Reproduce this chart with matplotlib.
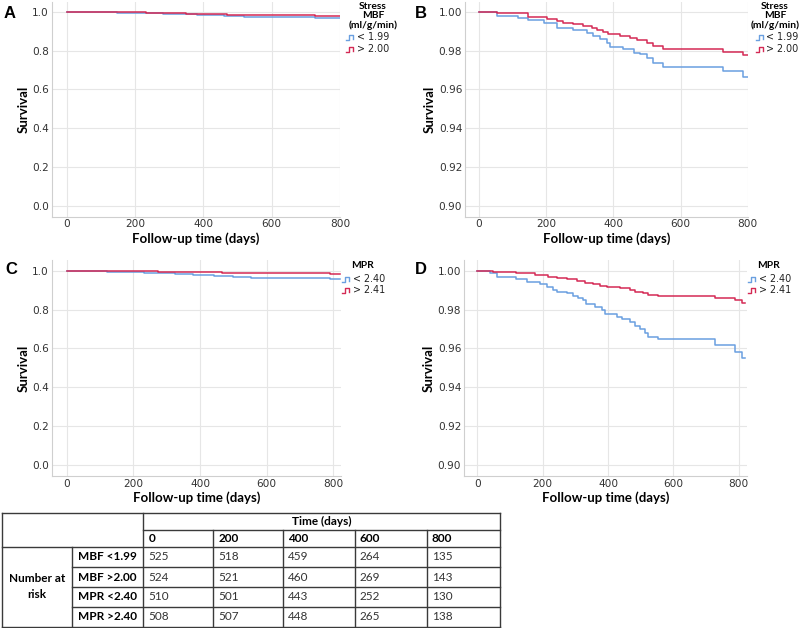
import matplotlib
matplotlib.use("Agg")
import matplotlib.pyplot as plt
from matplotlib.lines import Line2D
import numpy as np

# ---------------- data ----------------
mbf_low_t = [0, 53, 117, 147, 192, 231, 281, 320, 340, 360, 380, 390, 430, 460, 480, 499, 519, 549, 726, 787]
mbf_low_s = [1.000, 0.998, 0.997, 0.9957, 0.9943, 0.9914, 0.9906, 0.9892, 0.9875, 0.986, 0.9837, 0.982,
             0.9806, 0.979, 0.978, 0.976, 0.9738, 0.9717, 0.9696, 0.9666]
mbf_high_t = [0, 53, 147, 201, 231, 251, 281, 310, 335, 350, 370, 385, 420, 450, 470, 499, 519, 549, 726, 787]
mbf_high_s = [1.000, 0.9993, 0.9974, 0.9962, 0.995, 0.994, 0.9935, 0.9926, 0.9918, 0.9906, 0.9897, 0.9883,
              0.9875, 0.9866, 0.9854, 0.984, 0.9823, 0.981, 0.9794, 0.9777]
mbf_end = 800

mpr_low_t = [0, 39, 59, 120, 151, 192, 212, 233, 243, 273, 294, 309, 324, 334, 360, 380, 391, 426, 442,
             467, 483, 498, 513, 523, 554, 727, 789, 809]
mpr_low_s = [1.000, 0.999, 0.997, 0.9957, 0.9943, 0.993, 0.9918, 0.990, 0.9889, 0.9883, 0.987, 0.986,
             0.985, 0.983, 0.9815, 0.980, 0.9777, 0.9763, 0.975, 0.9737, 0.9715, 0.9698, 0.9678, 0.966,
             0.9647, 0.9617, 0.9583, 0.9549]
mpr_high_t = [0, 49, 120, 177, 217, 243, 273, 304, 329, 355, 376, 396, 437, 467, 483, 508, 523, 554, 727, 789, 809]
mpr_high_s = [1.000, 0.9991, 0.9986, 0.9978, 0.997, 0.996, 0.9955, 0.9949, 0.9938, 0.9931, 0.992, 0.9918,
              0.9909, 0.990, 0.9892, 0.9883, 0.9875, 0.987, 0.986, 0.985, 0.9835]
mpr_end = 820

mbf_labels = ["< 1.99", "> 2.00"]
mpr_labels = ["< 2.40", "> 2.41"]

risk_times = ["0", "200", "400", "600", "800"]
risk_groups = ["MBF <1.99", "MBF >2.00", "MPR <2.40", "MPR >2.40"]
risk_mbf_low = [525, 518, 459, 264, 135]
risk_mbf_high = [524, 521, 460, 269, 143]
risk_mpr_low = [510, 501, 443, 252, 130]
risk_mpr_high = [508, 507, 448, 265, 138]

BLUE = "#6a9fe0"
RED = "#d42a55"
GRID = "#e6e6e6"
SPINE = "#cfcfcf"

W, H = 800, 628
fig = plt.figure(figsize=(W / 100, H / 100), dpi=100)
fig.patch.set_facecolor("white")


def fx(x):
    return x / W


def fy(y):
    return 1 - y / H


def make_ax(l, r, t, b):
    return fig.add_axes([fx(l), fy(b), (r - l) / W, (b - t) / H])


def style(ax, xlim, ylim, yticks, yfmt):
    ax.set_xlim(*xlim)
    ax.set_ylim(*ylim)
    ax.set_xticks([0, 200, 400, 600, 800])
    ax.set_yticks(yticks)
    ax.set_yticklabels([yfmt.format(v) for v in yticks])
    ax.grid(True, color=GRID, lw=0.8)
    ax.set_axisbelow(True)
    for s in ["top", "right"]:
        ax.spines[s].set_visible(False)
    for s in ["left", "bottom"]:
        ax.spines[s].set_color(SPINE)
        ax.spines[s].set_linewidth(0.8)
    ax.tick_params(length=0, labelsize=7.6, colors="#333333", pad=2)
    for lab in ax.get_xticklabels() + ax.get_yticklabels():
        lab.set_family("DejaVu Sans")
    ax.set_xlabel("Follow-up time (days)", fontsize=9.5, fontweight="bold", family="Lato", labelpad=2)
    ax.set_ylabel("Survival", fontsize=9.5, fontweight="bold", family="Lato", labelpad=2)


def km(ax, t, s, end, color):
    tt = list(t) + [end]
    ss = list(s) + [s[-1]]
    ax.step(tt, ss, where="post", color=color, lw=1.1)


panels = [
    (51.7, 340, 2, 216.7, (-44, 800), (-0.055, 1.05), [0, 0.2, 0.4, 0.6, 0.8, 1.0], "{:.1f}", "mbf", "A", 10, 13),
    (465, 747.7, 2, 216.7, (-42, 800), (0.8945, 1.005), [0.90, 0.92, 0.94, 0.96, 0.98, 1.00], "{:.2f}", "mbf", "B", 421, 13),
    (51.7, 340.7, 260, 476, (-45, 822), (-0.056, 1.055), [0, 0.2, 0.4, 0.6, 0.8, 1.0], "{:.1f}", "mpr", "C", 11, 270),
    (464, 746.7, 260, 476, (-40.5, 824), (0.8943, 1.0055), [0.90, 0.92, 0.94, 0.96, 0.98, 1.00], "{:.2f}", "mpr", "D", 421, 270),
]

for (l, r, t, b, xl, yl, yt, fmt, kind, letter, lx, ly) in panels:
    ax = make_ax(l, r, t, b)
    style(ax, xl, yl, yt, fmt)
    if kind == "mbf":
        km(ax, mbf_low_t, mbf_low_s, mbf_end, BLUE)
        km(ax, mbf_high_t, mbf_high_s, mbf_end, RED)
    else:
        km(ax, mpr_low_t, mpr_low_s, mpr_end, BLUE)
        km(ax, mpr_high_t, mpr_high_s, mpr_end, RED)
    fig.text(fx(lx), fy(ly), letter, fontsize=12, fontweight="bold", family="Liberation Sans",
             ha="center", va="center")


# ---------------- legends ----------------
def step_icon(x0, yc, color):
    w, h = 7, 5
    xs = [x0, x0 + 3, x0 + 3, x0 + w, x0 + w]
    ys = [yc + h / 2, yc + h / 2, yc - h / 2, yc - h / 2, yc + h / 2 - 1]
    fig.add_artist(Line2D([fx(v) for v in xs], [fy(v) for v in ys], color=color, lw=1.0,
                          transform=fig.transFigure))


def legend(title_lines, title_x, title_ys, icon_x, text_x, item_ys, labels):
    for line, y in zip(title_lines, title_ys):
        fig.text(fx(title_x), fy(y), line, fontsize=7.4, fontweight="bold", family="Lato",
                 ha="center", va="center")
    for y, lab, c in zip(item_ys, labels, [BLUE, RED]):
        step_icon(icon_x, y, c)
        fig.text(fx(text_x), fy(y), lab, fontsize=6.9, family="DejaVu Sans", ha="left", va="center",
                 color="#222222")


legend(["Stress", "MBF", "(ml/g/min)"], 373, [6.5, 15.5, 25], 346, 357, [37.5, 49.5], mbf_labels)
legend(["Stress", "MBF", "(ml/g/min)"], 775, [6.5, 15.5, 25], 756, 766, [37.5, 49.5], mbf_labels)
legend(["MPR"], 363, [265.5], 342, 353, [279, 290], mpr_labels)
legend(["MPR"], 768, [265.5], 748, 759, [279, 290], mpr_labels)

# ---------------- table ----------------
tab = fig.add_axes([0, 0, 1, 1])
tab.set_xlim(0, W)
tab.set_ylim(H, 0)
tab.axis("off")
tab.patch.set_alpha(0)

x_left, x_c1, x_c2, x_right = 1.7, 71.7, 143.3, 500
col_edges = [143.3, 213.3, 283.3, 355, 426.7, 500]
y_top, y_h1, y_h2 = 512.7, 530, 546.7
row_edges = [546.7, 567.3, 587.3, 606.7, 626.7]
LC = "#3a3a3a"
LW = 1.0


def hl(y, x0, x1):
    tab.plot([x0, x1], [y, y], color=LC, lw=LW, solid_capstyle="projecting")


def vl(x, y0, y1):
    tab.plot([x, x], [y0, y1], color=LC, lw=LW, solid_capstyle="projecting")


hl(y_top, x_left, x_right)
hl(row_edges[-1], x_left, x_right)
vl(x_left, y_top, row_edges[-1])
vl(x_right, y_top, row_edges[-1])
vl(x_c2, y_top, row_edges[-1])
vl(x_c1, y_h2, row_edges[-1])
hl(y_h1, x_c2, x_right)
hl(y_h2, x_left, x_right)
for y in row_edges[1:-1]:
    hl(y, x_c1, x_right)
for x in col_edges[1:-1]:
    vl(x, y_h1, row_edges[-1])

TF = "Lato"
FS = 8.5
tab.text((x_c2 + x_right) / 2, (y_top + y_h1) / 2, "Time (days)", fontsize=FS, fontweight="bold",
         family=TF, ha="center", va="center")
for i, lab in enumerate(risk_times):
    tab.text(col_edges[i] + 5, (y_h1 + y_h2) / 2, lab, fontsize=FS, fontweight="bold", family=TF,
             ha="left", va="center")
tab.text((x_left + x_c1) / 2, (row_edges[0] + row_edges[-1]) / 2, "Number at\nrisk", fontsize=FS,
         fontweight="bold", family=TF, ha="center", va="center", linespacing=1.6)
all_counts = [risk_mbf_low, risk_mbf_high, risk_mpr_low, risk_mpr_high]
for r, (g, counts) in enumerate(zip(risk_groups, all_counts)):
    yc = (row_edges[r] + row_edges[r + 1]) / 2
    tab.text(x_c1 + 6, yc, g, fontsize=FS, fontweight="bold", family=TF, ha="left", va="center")
    for i, v in enumerate(counts):
        tab.text(col_edges[i] + 5, yc, str(v), fontsize=FS, family=TF, ha="left", va="center",
                 color="#333333")

fig.savefig("out.png", dpi=100, facecolor="white")
